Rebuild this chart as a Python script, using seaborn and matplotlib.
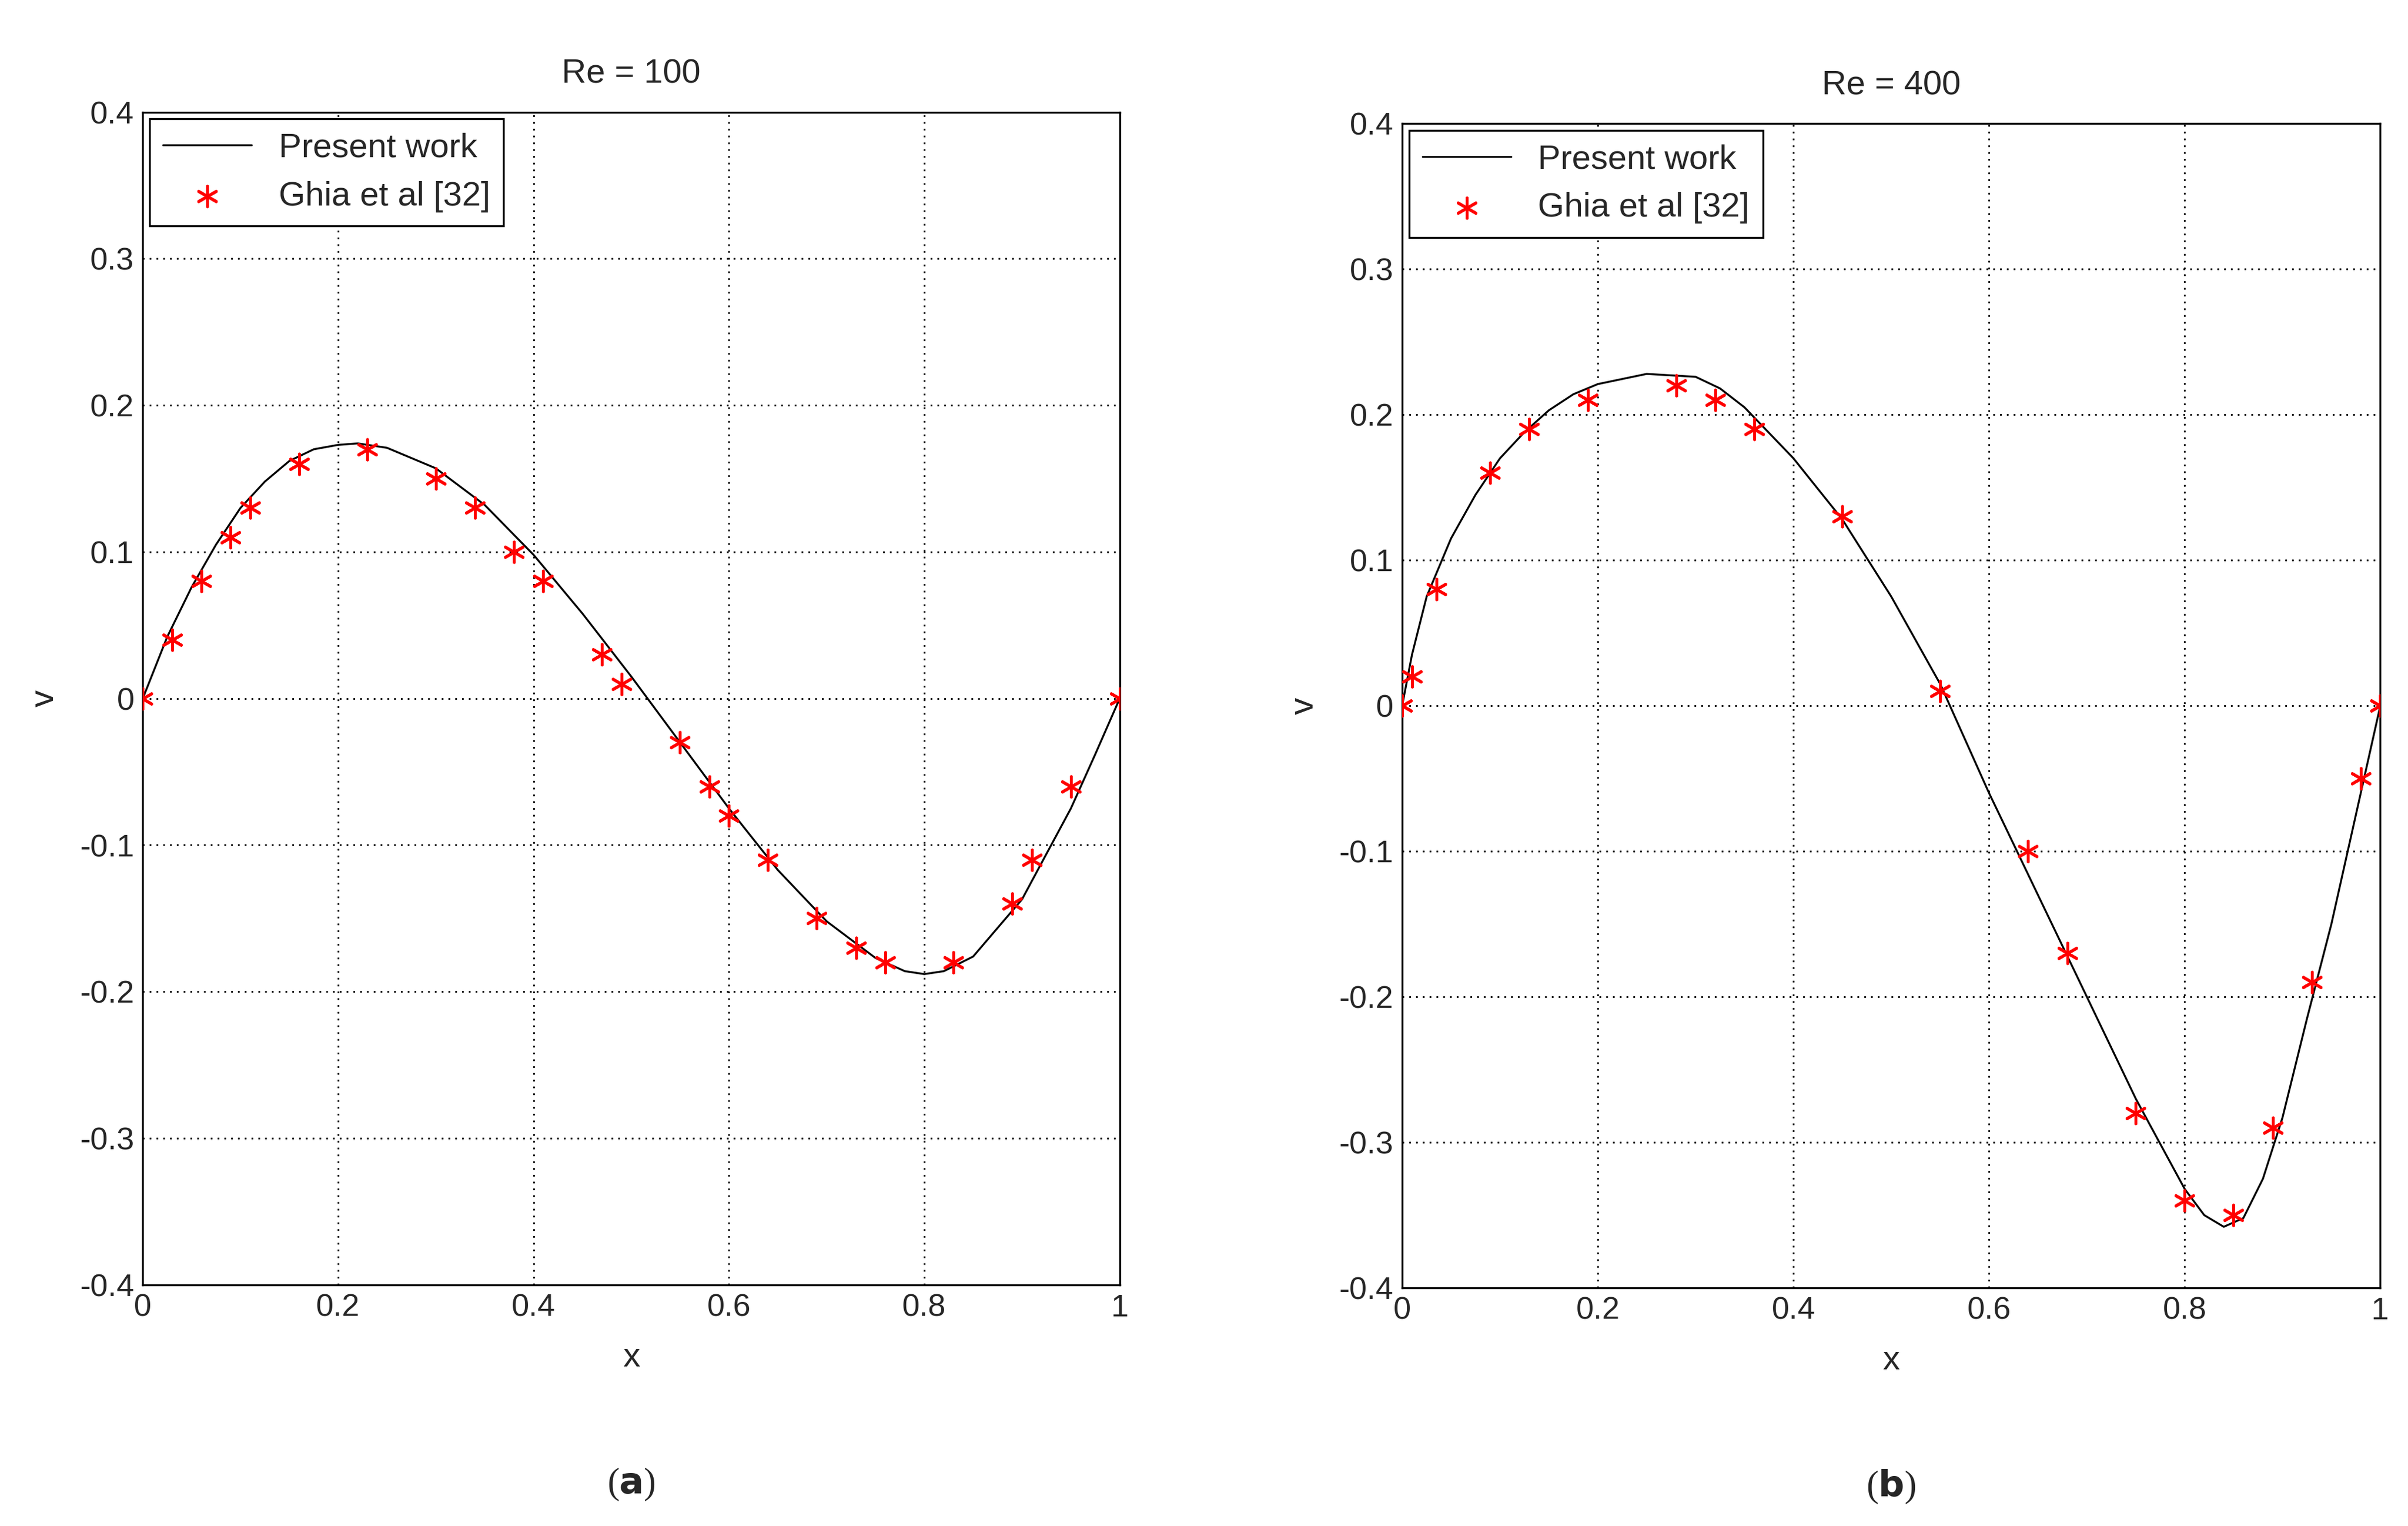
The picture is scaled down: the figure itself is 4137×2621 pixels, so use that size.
import matplotlib
matplotlib.use("Agg")
import matplotlib.pyplot as plt
import seaborn as sns

sns.set_style("white")
plt.rcParams["font.family"] = ["Liberation Sans", "DejaVu Sans"]

# Re = 100
ghia_x_100 = [0, 0.03, 0.06, 0.09, 0.11, 0.16, 0.23, 0.30, 0.34, 0.38, 0.41, 0.47, 0.49,
              0.55, 0.58, 0.60, 0.64, 0.69, 0.73, 0.76, 0.83, 0.89, 0.91, 0.95, 1.0]
ghia_v_100 = [0, 0.04, 0.08, 0.11, 0.13, 0.16, 0.17, 0.15, 0.13, 0.10, 0.08, 0.03, 0.01,
              -0.03, -0.06, -0.08, -0.11, -0.15, -0.17, -0.18, -0.18, -0.14, -0.11, -0.06, 0]
work_x_100 = [0, 0.025, 0.05, 0.075, 0.1, 0.125, 0.15, 0.175, 0.2, 0.22, 0.25, 0.3, 0.35, 0.4,
              0.45, 0.5, 0.55, 0.6, 0.65, 0.7, 0.75, 0.78, 0.8, 0.82, 0.85, 0.9, 0.95, 0.975, 1.0]
work_v_100 = [0, 0.042, 0.076, 0.105, 0.13, 0.148, 0.162, 0.17, 0.173, 0.174, 0.171, 0.157,
              0.132, 0.098, 0.058, 0.015, -0.03, -0.075, -0.117, -0.152, -0.177, -0.186, -0.188,
              -0.186, -0.176, -0.137, -0.075, -0.038, 0]

# Re = 400
ghia_x_400 = [0, 0.01, 0.035, 0.09, 0.13, 0.19, 0.28, 0.32, 0.36, 0.45, 0.55, 0.64, 0.68,
              0.75, 0.80, 0.85, 0.89, 0.93, 0.98, 1.0]
ghia_v_400 = [0, 0.02, 0.08, 0.16, 0.19, 0.21, 0.22, 0.21, 0.19, 0.13, 0.01, -0.10, -0.17,
              -0.28, -0.34, -0.35, -0.29, -0.19, -0.05, 0]
work_x_400 = [0, 0.01, 0.025, 0.05, 0.075, 0.1, 0.125, 0.15, 0.175, 0.2, 0.25, 0.3, 0.325, 0.35,
              0.4, 0.45, 0.5, 0.55, 0.6, 0.65, 0.7, 0.75, 0.8, 0.82, 0.84, 0.86, 0.88, 0.9,
              0.925, 0.95, 0.975, 1.0]
work_v_400 = [0, 0.035, 0.075, 0.115, 0.145, 0.17, 0.188, 0.203, 0.214, 0.221, 0.228, 0.226,
              0.218, 0.205, 0.17, 0.128, 0.075, 0.015, -0.06, -0.13, -0.2, -0.27, -0.332,
              -0.35, -0.358, -0.352, -0.325, -0.283, -0.215, -0.15, -0.075, 0]

fig = plt.figure(figsize=(13.79, 8.737), dpi=300)
ax1 = fig.add_axes([0.0593, 0.158, 0.4057, 0.7685])
ax2 = fig.add_axes([0.5823, 0.156, 0.4062, 0.763])

panels = [
    (ax1, "Re = 100", work_x_100, work_v_100, ghia_x_100, ghia_v_100, r"($\mathbf{a}$)"),
    (ax2, "Re = 400", work_x_400, work_v_400, ghia_x_400, ghia_v_400, r"($\mathbf{b}$)"),
]

for ax, title, wx, wv, gx, gv, tag in panels:
    sns.lineplot(x=wx, y=wv, ax=ax, color="black", linewidth=0.8, label="Present work")
    sns.scatterplot(x=gx, y=gv, ax=ax, color="red", marker=(6, 2, 0), s=70, edgecolor="red",
                    linewidth=1.2, label="Ghia et al [32]", zorder=3)
    ax.set_xlim(0, 1)
    ax.set_ylim(-0.4, 0.4)
    ax.set_xticks([0, 0.2, 0.4, 0.6, 0.8, 1])
    ax.set_xticklabels(["0", "0.2", "0.4", "0.6", "0.8", "1"])
    ax.set_yticks([-0.4, -0.3, -0.2, -0.1, 0, 0.1, 0.2, 0.3, 0.4])
    ax.set_yticklabels(["-0.4", "-0.3", "-0.2", "-0.1", "0", "0.1", "0.2", "0.3", "0.4"])
    ax.grid(True, linestyle=(0, (1, 3)), color="black", linewidth=0.7)
    ax.tick_params(direction="in", labelsize=13, length=4)
    for sp in ax.spines.values():
        sp.set_color("black")
        sp.set_linewidth(0.8)
    ax.set_title(title, fontsize=14, pad=12)
    ax.set_xlabel("x", fontsize=14, labelpad=8)
    ax.set_ylabel("v", fontsize=14, labelpad=8)
    leg = ax.legend(loc="upper left", fontsize=14, frameon=True, fancybox=False,
                    edgecolor="black", borderaxespad=0.2, handlelength=2.6, framealpha=1)
    leg.get_frame().set_linewidth(0.8)
    ax.text(0.5, -0.155, tag, transform=ax.transAxes, ha="center", va="top",
            fontsize=15, family=["Liberation Serif", "DejaVu Serif"])

fig.savefig("out.png", dpi=300)
